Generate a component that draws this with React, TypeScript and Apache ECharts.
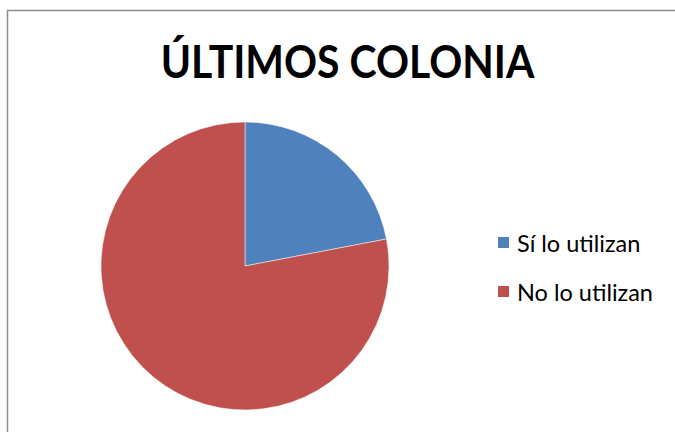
import React, { useEffect, useRef } from "react";
import * as echarts from "echarts";

const titleText = "ÚLTIMOS COLONIA";
const categories = ["Sí lo utilizan", "No lo utilizan"];
const values = [22, 78];
const colors = ["#4F81BD", "#C0504D"];

export default function App() {
  const ref = useRef<HTMLDivElement>(null);
  useEffect(() => {
    if (!ref.current) return;
    const chart = echarts.init(ref.current, null, { renderer: "svg" });
    chart.setOption({
      animation: false,
      backgroundColor: "#ffffff",
      legend: {
        orient: "vertical",
        left: 491,
        top: 225.5,
        itemWidth: 13,
        itemHeight: 13,
        itemGap: 25,
        icon: "rect",
        data: categories,
        textStyle: {
          fontFamily: "Lato",
          fontSize: 23.5,
          lineHeight: 24,
          color: "#000000",
          padding: [0, 0, 0, 2],
        },
      },
      graphic: [
        {
          type: "polyline",
          shape: { points: [[7.5, 440], [7.5, 10.5], [680, 10.5]] },
          style: { fill: "none", stroke: "#8c8c8c", lineWidth: 1.5 },
          silent: true,
          z: -1,
        },
        {
          type: "text",
          x: 347.5,
          y: 60,
          scaleX: 0.89,
          style: {
            text: titleText,
            fontFamily: "Lato",
            fontWeight: "bold",
            fontSize: 46,
            fill: "#000000",
            align: "center",
            verticalAlign: "middle",
          },
          silent: true,
        },
      ],
      series: [
        {
          type: "pie",
          center: [245, 266],
          radius: 144,
          startAngle: 90,
          clockwise: true,
          label: { show: false },
          labelLine: { show: false },
          itemStyle: { borderColor: "#ffffff", borderWidth: 0.5 },
          emphasis: { disabled: true },
          data: categories.map((c, i) => ({
            name: c,
            value: values[i],
            itemStyle: { color: colors[i] },
          })),
        },
      ],
    });
    return () => chart.dispose();
  }, []);
  return (
    <div
      ref={ref}
      style={{ position: "absolute", left: 0, top: 0, width: 675, height: 432 }}
    />
  );
}
